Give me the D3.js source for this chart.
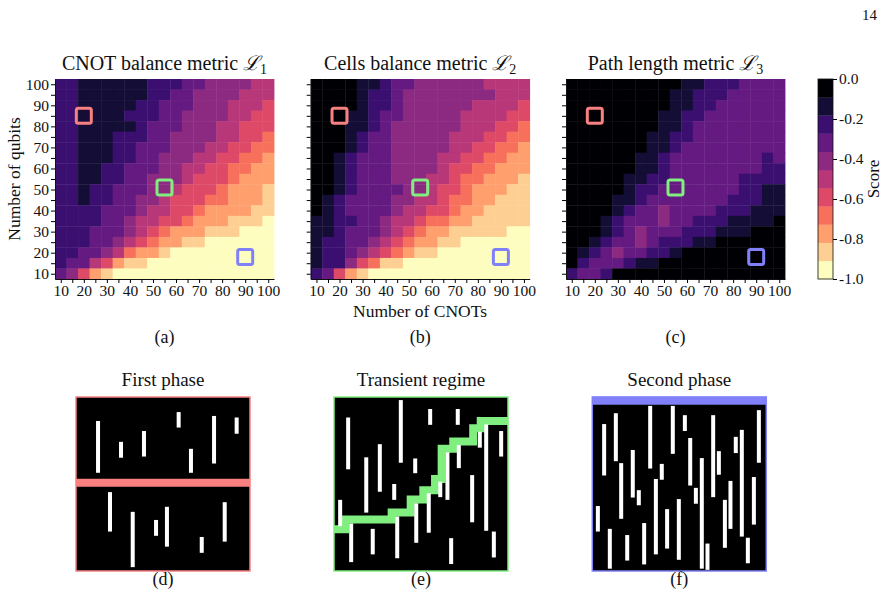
<!DOCTYPE html>
<html>
<head>
<meta charset="utf-8">
<script src="https://cdn.jsdelivr.net/npm/d3@7"></script>
<style>
  body { margin: 0; background: #fff; }
  text { font-family: "Liberation Serif", "Times New Roman", serif; fill: #111; }
</style>
</head>
<body>
<div id="fig"></div>
<script>
// heatmap axes
const cnots = [10, 15, 20, 25, 30, 35, 40, 45, 50, 55, 60, 65, 70, 75, 80, 85, 90, 95, 100];
const qubits = [100, 95, 90, 85, 80, 75, 70, 65, 60, 55, 50, 45, 40, 35, 30, 25, 20, 15, 10];

// one string per qubit row (top row = 100 qubits), one char per CNOT column.
// char k (base 11, "A" = 10) is the score band: 0 -> score near 0, A -> score near -1
const cnotBalance = [
  "2211111122233444455",
  "2211111122334444555",
  "2211111223334445556",
  "2211112223344445566",
  "2211111233344455666",
  "2211122233444455667",
  "2211122333444556677",
  "2211122334445566778",
  "2211223334455667788",
  "2211223344456667888",
  "2212233344566678889",
  "2212233445666778889",
  "2222333455667888899",
  "222233455667888999A",
  "2223334567888999AAA",
  "2223345678899AAAAAA",
  "2233457889AAAAAAAAA",
  "23356899AAAAAAAAAAA",
  "34689AAAAAAAAAAAAAA"
];
const cellsBalance = [
  "0000112334444445555",
  "0000122344444444555",
  "0000122344444455556",
  "0001123344444555566",
  "0001123444444555667",
  "0001233444445556677",
  "0001233444445566778",
  "0012333444455667788",
  "0012333444456677888",
  "0012333444556778889",
  "0012333344566788899",
  "0123333445567788999",
  "0123333455667889999",
  "1122334556778899999",
  "11233345678899999AA",
  "1223345678899AAAAAA",
  "12234567899AAAAAAAA",
  "12246799AAAAAAAAAAA",
  "23689AAAAAAAAAAAAAA"
];
const pathLength = [
  "0000000000112223333",
  "0000000001122233333",
  "0000000001122333333",
  "0000000011223333333",
  "0000000011233333333",
  "0000000112233333333",
  "0000000112333333333",
  "0000001123333333323",
  "0000001123333333322",
  "0000011223333332222",
  "0000012233333332211",
  "0000112333333322211",
  "0000123343333222111",
  "0001233343322211110",
  "0001234333222111000",
  "0012334322211000000",
  "0123433221000000000",
  "0233321100000000000",
  "2332000000000000000"
];

// highlighted (cnots, qubits) spots, same on the three maps
const spots = [[20, 85], [55, 51], [90, 18]];
const colorbarTicks = [0, -0.2, -0.4, -0.6, -0.8, -1.0];

// circuit sketches: [layer, first qubit, last qubit] per CNOT
const firstPhaseGates = [
  [1.9, 6.2, 19.6], [3.88, 11.6, 15.7], [5.86, 8.8, 15.4], [8.85, 3.9, 7.9], [9.91, 13.4, 19.6],
  [11.9, 4.9, 17.2], [13.85, 5.3, 9.5], [2.93, 24.6, 34.8], [4.89, 29.7, 44.0], [6.9, 31.8, 35.9],
  [7.84, 28.4, 38.7], [10.84, 36.2, 40.3], [12.82, 27.2, 37.4]
];
const transientGates = [
  [0.53, 26.6, 33.4], [1.22, 5.3, 18.7], [1.48, 32.7, 42.7], [2.78, 15.6, 29.9], [3.34, 34.1, 40.7],
  [3.95, 12.2, 24.5], [5.19, 22.5, 26.6], [5.45, 30.9, 41.7], [5.76, 0.8, 17.0], [7.0, 15.9, 19.7],
  [7.09, 27.5, 37.7], [8.17, 24.9, 35.1], [8.29, 3.1, 7.2], [9.16, 21.9, 25.9], [9.78, 14.3, 26.6],
  [10.1, 36.5, 43.2], [10.67, 3.1, 7.2], [10.76, 12.4, 18.4], [11.91, 20.2, 32.4], [12.57, 9.0, 13.1],
  [13.12, 7.1, 34.6], [13.78, 34.8, 41.5], [14.41, 8.8, 15.4]
];
const secondPhaseGates = [
  [0.48, 28.2, 34.8], [1.02, 7.0, 20.3], [1.51, 34.1, 44.4], [2.03, 4.2, 16.6], [2.49, 17.1, 31.5],
  [3.01, 35.7, 42.3], [3.49, 13.7, 26.0], [4.01, 24.1, 28.0], [4.47, 32.6, 43.3], [4.99, 2.3, 18.5],
  [5.48, 21.2, 40.7], [5.99, 17.3, 21.4], [6.45, 29.0, 39.2], [6.94, 2.3, 14.7], [7.46, 26.4, 42.1],
  [7.98, 4.7, 8.8], [8.44, 10.6, 22.9], [8.93, 23.5, 27.6], [9.44, 15.8, 44.4], [9.93, 37.9, 44.7],
  [10.42, 4.7, 25.9], [10.91, 14.0, 20.1], [11.43, 26.6, 39.0], [11.91, 21.7, 34.1], [12.37, 10.3, 14.5],
  [12.89, 8.5, 36.1], [13.41, 36.4, 43.0], [13.93, 20.7, 33.0], [14.36, 3.4, 17.0]
];
// free paths: [layer, qubit] where each horizontal run starts
const firstPhasePath = [[0, 22.2], [15, 22.2]];
const transientPath = [
  [0, 34.2], [0.95, 31.7], [4.97, 29.9], [6.61, 26.5], [7.7, 24.1], [8.71, 21.2],
  [9.28, 13.4], [10.28, 11.5], [12.0, 8.1], [12.65, 6.2], [15, 6.2]
];
const secondPhasePath = [[0, 1.0], [15, 1.0]];

const W = 890, H = 602;
const svg = d3.select("#fig").append("svg").attr("width", W).attr("height", H);
svg.append("rect").attr("width", W).attr("height", H).attr("fill", "#fff");

const magma = d3.range(11).map((k) => d3.interpolateMagma(1 - k / 10));
const color = d3.scaleQuantize().domain([-1, 0]).range(magma);
const toScore = (ch) => -(parseInt(ch, 11) + 0.5) / 11;

const spotColors = ["#f98080", "#80ef80", "#8080f8"];
const heat = { top: 79, bottom: 279, width: 219 };
const tickFont = 15.5;

const maps = [
  { grid: cnotBalance, left: 55, title: "CNOT balance metric ", sub: "1", tag: "(a)", yLabels: true },
  { grid: cellsBalance, left: 310.7, title: "Cells balance metric ", sub: "2", tag: "(b)" },
  { grid: pathLength, left: 566, title: "Path length metric ", sub: "3", tag: "(c)" }
];

maps.forEach((m) => {
  const x = d3.scaleLinear().domain([7.5, 102.5]).range([m.left, m.left + heat.width]);
  const y = d3.scaleLinear().domain([7.5, 102.5]).range([heat.bottom, heat.top]);
  const cx = m.left + heat.width / 2;
  const g = svg.append("g");

  const cells = [];
  m.grid.forEach((row, i) => row.split("").forEach((ch, j) => {
    cells.push({ q: qubits[i], c: cnots[j], s: toScore(ch) });
  }));

  g.selectAll("rect.cell").data(cells).join("rect")
    .attr("class", "cell")
    .attr("x", (d) => x(d.c - 2.5))
    .attr("y", (d) => y(d.q + 2.5))
    .attr("width", x(5) - x(0) + 0.4)
    .attr("height", y(0) - y(5) + 0.4)
    .attr("fill", (d) => color(d.s));

  const xAxis = g.append("g")
    .attr("transform", `translate(0,${heat.bottom})`)
    .call(d3.axisBottom(x).tickValues(cnots).tickSize(4).tickSizeOuter(0).tickPadding(2)
      .tickFormat((d) => (d % 10 === 0 ? d : "")));
  const yAxis = g.append("g")
    .attr("transform", `translate(${m.left},0)`)
    .call(d3.axisLeft(y).tickValues(qubits).tickSize(4).tickSizeOuter(0).tickPadding(2)
      .tickFormat((d) => (m.yLabels && d % 10 === 0 ? d : "")));
  [xAxis, yAxis].forEach((a) => {
    a.attr("font-size", tickFont);
    a.selectAll("text").attr("fill", "#111");
    a.select(".domain").attr("stroke", "#111");
  });

  g.selectAll("rect.spot").data(spots).join("rect")
    .attr("class", "spot")
    .attr("x", (d) => x(d[0]) - 7.5)
    .attr("y", (d) => y(d[1]) - 7.5)
    .attr("width", 15)
    .attr("height", 15)
    .attr("rx", 2)
    .attr("fill", "none")
    .attr("stroke", (d, i) => spotColors[i])
    .attr("stroke-width", 3);

  const t = g.append("text").attr("x", cx).attr("y", 70).attr("text-anchor", "middle").style("font-size", "20px");
  t.append("tspan").text(m.title);
  t.append("tspan").style("font-family", "DejaVu Serif").style("font-style", "italic").text("\u2112");
  t.append("tspan").attr("dy", 4).style("font-size", "14px").text(m.sub);

  g.append("text").attr("x", cx).attr("y", 343).attr("text-anchor", "middle").style("font-size", "18px").text(m.tag);
});

svg.append("text")
  .attr("transform", "translate(20,179) rotate(-90)")
  .attr("text-anchor", "middle")
  .style("font-size", "17.5px")
  .text("Number of qubits");
svg.append("text")
  .attr("x", 420).attr("y", 317)
  .attr("text-anchor", "middle")
  .style("font-size", "17.5px")
  .text("Number of CNOTs");

// colorbar
const cb = d3.scaleLinear().domain([-1, 0]).range([heat.bottom, heat.top]);
const cbg = svg.append("g");
cbg.selectAll("rect").data(magma).join("rect")
  .attr("x", 818)
  .attr("width", 15)
  .attr("y", (d, i) => cb(-1 + (i + 1) / 11))
  .attr("height", cb(-1) - cb(-1 + 1 / 11) + 0.3)
  .attr("fill", (d) => d);
cbg.append("rect")
  .attr("x", 818).attr("y", heat.top).attr("width", 15).attr("height", heat.bottom - heat.top)
  .attr("fill", "none").attr("stroke", "#111").attr("stroke-width", 0.8);
const cbAxis = cbg.append("g")
  .attr("transform", "translate(833,0)")
  .call(d3.axisRight(cb).tickValues(colorbarTicks).tickSize(4).tickSizeOuter(0).tickPadding(2)
    .tickFormat((d) => d.toFixed(1)));
cbAxis.attr("font-size", tickFont);
cbAxis.select(".domain").remove();
cbAxis.selectAll("text").attr("fill", "#111");
svg.append("text")
  .attr("transform", "translate(879,179) rotate(-90)")
  .attr("text-anchor", "middle")
  .style("font-size", "17px")
  .text("Score");

svg.append("text").attr("x", 877).attr("y", 20).attr("text-anchor", "end").style("font-size", "15px").text("14");

// circuit sketches
const sketches = [
  { gates: firstPhaseGates, path: firstPhasePath, left: 76, color: "#f98080", title: "First phase", tag: "(d)" },
  { gates: transientGates, path: transientPath, left: 334, color: "#80ef80", title: "Transient regime", tag: "(e)" },
  { gates: secondPhaseGates, path: secondPhasePath, left: 592.3, color: "#8080f8", title: "Second phase", tag: "(f)" }
];
const box = { top: 397, size: 174 };

sketches.forEach((s) => {
  const x = d3.scaleLinear().domain([0, 15]).range([s.left, s.left + box.size]);
  const y = d3.scaleLinear().domain([0, 45]).range([box.top, box.top + box.size]);
  const g = svg.append("g");
  const cx = s.left + box.size / 2;

  g.append("rect")
    .attr("x", s.left).attr("y", box.top).attr("width", box.size).attr("height", box.size)
    .attr("fill", "#000");

  const line = d3.line().x((d) => x(d[0])).y((d) => y(d[1])).curve(d3.curveStepAfter);
  g.append("path")
    .attr("d", line(s.path))
    .attr("fill", "none")
    .attr("stroke", s.color)
    .attr("stroke-width", 8)
    .attr("stroke-linejoin", "miter");

  g.selectAll("rect.gate").data(s.gates).join("rect")
    .attr("class", "gate")
    .attr("x", (d) => x(d[0]) - 2)
    .attr("y", (d) => y(d[1]))
    .attr("width", 4)
    .attr("height", (d) => y(d[2]) - y(d[1]))
    .attr("fill", "#fff");

  g.append("rect")
    .attr("x", s.left).attr("y", box.top).attr("width", box.size).attr("height", box.size)
    .attr("fill", "none").attr("stroke", s.color).attr("stroke-width", 1.5);

  g.append("text").attr("x", cx).attr("y", 386).attr("text-anchor", "middle").style("font-size", "19px").text(s.title);
  g.append("text").attr("x", cx).attr("y", 585).attr("text-anchor", "middle").style("font-size", "18px").text(s.tag);
});
</script>
</body>
</html>
